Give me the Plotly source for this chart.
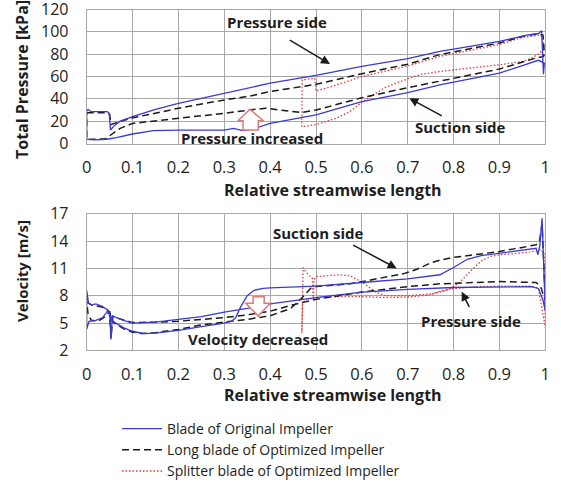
import plotly.graph_objects as go

# ---------------- data ----------------
x_tick_vals = [0, 0.1, 0.2, 0.3, 0.4, 0.5, 0.6, 0.7, 0.8, 0.9, 1]
x_tick_text = ["0", "0.1", "0.2", "0.3", "0.4", "0.5", "0.6", "0.7", "0.8", "0.9", "1"]
p_tick_vals = [0, 20, 40, 60, 80, 100, 120]
v_tick_vals = [2, 5, 8, 11, 14, 17]

series_names = ["Blade of Original Impeller",
                "Long blade of Optimized Impeller",
                "Splitter blade of Optimized Impeller"]

# Total pressure [kPa] - original blade (pressure side LE->TE, suction side TE->LE)
p_orig_ps_x = [0, 0.003, 0.01, 0.045, 0.049, 0.052, 0.06, 0.073, 0.1, 0.15, 0.2, 0.3, 0.356, 0.4, 0.5, 0.6, 0.7, 0.77, 0.8, 0.9, 0.96, 0.985, 0.992, 0.996]
p_orig_ps_y = [29, 30.5, 28.5, 28.5, 27, 12, 16, 20, 24, 30.5, 36, 45, 49.5, 54, 61, 69, 76, 82.5, 84.5, 91.5, 97, 98.5, 101, 62]
p_orig_ss_x = [0.998, 0.985, 0.9, 0.8, 0.77, 0.7, 0.6, 0.5, 0.4, 0.36, 0.34, 0.32, 0.3, 0.2, 0.145, 0.1, 0.073, 0.065, 0.044, 0.02, 0]
p_orig_ss_y = [72, 74.5, 63, 55, 52.6, 45.5, 37.6, 25.6, 18, 12.7, 11.5, 13.5, 12, 12, 11.5, 8.5, 5.6, 5.2, 3.8, 3.3, 3.6]

# Total pressure - long blade of optimized impeller
p_long_ps_x = [0, 0.045, 0.05, 0.053, 0.06, 0.073, 0.1, 0.16, 0.2, 0.3, 0.356, 0.4, 0.5, 0.6, 0.7, 0.77, 0.8, 0.9, 0.96, 0.985, 0.995, 0.998]
p_long_ps_y = [27.5, 27.5, 26, 17, 18, 19.5, 23, 28, 31.6, 39, 42.5, 46.5, 53, 62.5, 71, 79.6, 82, 90, 97, 98, 97, 80]
p_long_ss_x = [0.996, 0.98, 0.9, 0.8, 0.77, 0.7, 0.6, 0.5, 0.467, 0.41, 0.39, 0.355, 0.3, 0.2, 0.1, 0.073, 0.06, 0.05, 0.04, 0]
p_long_ss_y = [78, 76.6, 66.7, 58.5, 55.6, 50, 41, 30, 27.7, 31, 31.6, 30, 27, 22.6, 18, 13.6, 10, 6.7, 4, 3.8]

# Total pressure - splitter blade of optimized impeller
p_spl_ps_x = [0.469, 0.47, 0.48, 0.49, 0.497, 0.5, 0.51, 0.538, 0.6, 0.7, 0.77, 0.8, 0.9, 0.95, 0.97, 0.985, 0.993, 0.997]
p_spl_ps_y = [15, 57, 57.5, 58, 58.5, 47, 48, 51.5, 60, 69.5, 78, 80.5, 88.6, 95, 96.5, 97, 96, 86]
p_spl_ss_x = [0.995, 0.985, 0.97, 0.95, 0.9, 0.8, 0.77, 0.73, 0.7, 0.65, 0.618, 0.6, 0.574, 0.545, 0.5, 0.48]
p_spl_ss_y = [84, 80, 76.5, 73.5, 70.5, 66, 64.5, 62, 58, 50, 42, 37, 28.6, 22.7, 17, 15.5]

# Velocity [m/s] - original blade
v_orig_ps_x = [0, 0.004, 0.01, 0.02, 0.035, 0.044, 0.049, 0.051, 0.053, 0.056, 0.065, 0.08, 0.1, 0.15, 0.2, 0.25, 0.3, 0.35, 0.4, 0.5, 0.6, 0.7, 0.8, 0.9, 0.97, 0.985, 0.995, 1.0]
v_orig_ps_y = [8.6, 7.2, 7.0, 7.1, 6.8, 6.5, 6.1, 5.4, 3.2, 5.8, 5.6, 5.3, 5.0, 5.1, 5.4, 5.7, 6.2, 6.6, 7.1, 7.8, 8.4, 8.7, 8.9, 9.0, 9.0, 8.8, 7.5, 6.3]
v_orig_ss_x = [0.993, 0.988, 0.984, 0.98, 0.95, 0.9, 0.86, 0.83, 0.8, 0.77, 0.7, 0.6, 0.5, 0.4, 0.385, 0.365, 0.35, 0.336, 0.325, 0.316, 0.3, 0.25, 0.2, 0.15, 0.125, 0.1, 0.08, 0.06, 0.054, 0.05, 0.045, 0.035, 0.02, 0.005, 0]
v_orig_ss_y = [16.5, 13.5, 12.5, 13.2, 13.0, 12.6, 12.4, 12.0, 11.1, 10.3, 9.85, 9.45, 9.05, 8.85, 8.8, 8.6, 8.0, 6.8, 5.6, 5.2, 5.0, 4.6, 4.2, 3.9, 3.85, 4.1, 4.5, 5.1, 5.4, 6.2, 6.3, 5.6, 5.3, 5.2, 4.3]

# Velocity - long blade
v_long_ps_x = [0, 0.01, 0.03, 0.045, 0.05, 0.053, 0.057, 0.07, 0.1, 0.15, 0.2, 0.25, 0.3, 0.35, 0.4, 0.45, 0.5, 0.6, 0.7, 0.77, 0.8, 0.9, 0.98, 0.99, 0.996, 1.0]
v_long_ps_y = [7.3, 7.0, 6.8, 6.5, 6.0, 3.4, 5.7, 5.5, 5.05, 5.1, 5.2, 5.4, 5.6, 5.9, 6.3, 7.0, 7.6, 8.4, 9.0, 9.3, 9.35, 9.55, 9.45, 9.0, 8.0, 7.5]
v_long_ss_x = [0.993, 0.988, 0.983, 0.98, 0.95, 0.9, 0.8, 0.77, 0.75, 0.72, 0.69, 0.6, 0.574, 0.5, 0.49, 0.47, 0.445, 0.4, 0.35, 0.3, 0.25, 0.2, 0.15, 0.12, 0.1, 0.08, 0.06, 0.055, 0.05, 0.04, 0.025, 0.01, 0.003]
v_long_ss_y = [15.8, 14.2, 13.7, 13.6, 13.3, 12.85, 12.2, 11.9, 11.6, 10.9, 10.4, 9.6, 9.3, 9.0, 8.9, 7.8, 6.6, 5.8, 5.4, 5.1, 4.8, 4.3, 3.95, 3.85, 4.0, 4.4, 5.0, 5.3, 6.3, 5.7, 5.2, 5.3, 6.0]

# Velocity - splitter blade
v_spl_ps_x = [0.469, 0.471, 0.48, 0.492, 0.5, 0.55, 0.6, 0.65, 0.7, 0.75, 0.77, 0.8, 0.85, 0.9, 0.97, 0.985, 0.995, 1.0]
v_spl_ps_y = [3.9, 7.2, 7.6, 7.7, 7.8, 7.9, 7.9, 7.8, 7.85, 8.1, 8.5, 8.8, 9.0, 9.05, 9.05, 8.8, 6.0, 4.5]
v_spl_ss_x = [0.997, 0.99, 0.98, 0.967, 0.93, 0.9, 0.88, 0.86, 0.843, 0.814, 0.79, 0.77, 0.75, 0.7, 0.65, 0.63, 0.6, 0.574, 0.55, 0.52, 0.5, 0.496, 0.494, 0.492, 0.485, 0.478, 0.472]
v_spl_ss_y = [12.6, 13.1, 12.9, 12.8, 12.6, 12.5, 12.3, 11.8, 11.0, 9.5, 8.7, 8.4, 8.2, 8.0, 8.0, 8.4, 9.5, 10.2, 10.3, 10.2, 10.1, 9.8, 7.6, 9.9, 10.2, 10.6, 11.1]

# ---------------- styling ----------------
FONT = "Open Sans"
BLUE = "#3a3ad2"
BLACK = "#1a1a1a"
RED = "#e23a3a"
GRID = "#a8a8a8"
TXT = "#1e1e1e"

styles = [
    dict(color=BLUE, width=1.3, dash="solid"),
    dict(color=BLACK, width=1.5, dash="7px,4px"),
    dict(color=RED, width=1.3, dash="1.5px,2px"),
]


def loop(psx, psy, ssx, ssy):
    return psx + ssx + [psx[0]], psy + ssy + [psy[0]]


pressure_sets = [
    loop(p_orig_ps_x, p_orig_ps_y, p_orig_ss_x, p_orig_ss_y),
    loop(p_long_ps_x, p_long_ps_y, p_long_ss_x, p_long_ss_y),
    loop(p_spl_ps_x, p_spl_ps_y, p_spl_ss_x, p_spl_ss_y),
]
velocity_sets = [
    loop(v_orig_ps_x, v_orig_ps_y, v_orig_ss_x, v_orig_ss_y),
    loop(v_long_ps_x, v_long_ps_y, v_long_ss_x, v_long_ss_y),
    loop(v_spl_ps_x, v_spl_ps_y, v_spl_ss_x, v_spl_ss_y),
]

fig = go.Figure()
for i in [2, 1, 0]:
    x, y = pressure_sets[i]
    fig.add_trace(go.Scatter(x=x, y=y, mode="lines", name=series_names[i],
                             line=styles[i], xaxis="x", yaxis="y",
                             legendgroup=str(i), showlegend=True, legendrank=i + 1))
for i in [2, 1, 0]:
    x, y = velocity_sets[i]
    fig.add_trace(go.Scatter(x=x, y=y, mode="lines", name=series_names[i],
                             line=styles[i], xaxis="x2", yaxis="y2",
                             legendgroup=str(i), showlegend=False))

W, H = 561, 497
def fx(px):
    return px / W
def fy(py):
    return 1 - py / H

common_x = dict(range=[0, 1], tickvals=x_tick_vals, ticktext=x_tick_text,
                showgrid=True, gridcolor=GRID, gridwidth=1, showline=True,
                mirror=True, linecolor=GRID, linewidth=1, zeroline=False,
                ticks="", ticklabelstandoff=9, automargin=False,
                ticklabeloverflow="allow",
                tickfont=dict(family=FONT, size=16.5, color=TXT))
common_y = dict(showgrid=True, gridcolor=GRID, gridwidth=1, showline=True,
                mirror=True, linecolor=GRID, linewidth=1, zeroline=False,
                ticks="", ticklabelstandoff=14, automargin=False,
                ticklabeloverflow="allow",
                tickfont=dict(family=FONT, size=16, color=TXT))

fig.update_layout(
    width=W, height=H,
    margin=dict(l=0, r=0, t=0, b=0, autoexpand=False),
    paper_bgcolor="white", plot_bgcolor="white",
    font=dict(family=FONT, color=TXT),
    xaxis=dict(domain=[fx(86.7), fx(545.3)], anchor="y", **common_x),
    yaxis=dict(domain=[fy(143.5), fy(9.5)], range=[0, 120], tickvals=p_tick_vals,
               anchor="x", **common_y),
    xaxis2=dict(domain=[fx(86.7), fx(545.3)], anchor="y2", **common_x),
    yaxis2=dict(domain=[fy(350.4), fy(213.7)], range=[2, 17], tickvals=v_tick_vals,
                anchor="x2", **common_y),
    showlegend=True,
    legend=dict(x=fx(117), y=fy(413), xanchor="left", yanchor="top",
                font=dict(family=FONT, size=14, color=TXT),
                bgcolor="rgba(0,0,0,0)", tracegroupgap=0, itemwidth=40,
                traceorder="normal"),
)

ann = []
def title_ann(text, px, py, size, angle=0):
    return dict(text=text, x=fx(px), y=fy(py), xref="paper", yref="paper",
                xanchor="center", yanchor="middle", showarrow=False,
                textangle=angle, font=dict(family=FONT, size=size, color=TXT))

# axis titles
ann.append(title_ann("<b>Relative streamwise length</b>", 333, 190, 16))
ann.append(title_ann("<b>Relative streamwise length</b>", 333, 395, 16))
ann.append(title_ann("<b>Total Pressure [kPa]</b>", 22, 80, 16, -90))
ann.append(title_ann("<b>Velocity [m/s]</b>", 22, 271, 15, -90))

lab_font = dict(family=FONT, size=15, color=TXT)
def label(text, x, y, xr, yr):
    return dict(text=text, x=x, y=y, xref=xr, yref=yr, xanchor="center",
                yanchor="middle", showarrow=False, font=lab_font)
def arrow(x, y, ax, ay, xr, yr):
    return dict(text="", x=x, y=y, ax=ax, ay=ay, xref=xr, yref=yr, axref=xr,
                ayref=yr, showarrow=True, arrowhead=2, arrowsize=1.2,
                arrowwidth=1.5, arrowcolor=BLACK)

# top chart labels
ann.append(label("<b>Pressure side</b>", 0.415, 108.4, "x", "y"))
ann.append(arrow(0.5305, 71.2, 0.4396, 93.3, "x", "y"))
ann.append(label("<b>Pressure increased</b>", 0.3604, 4.9, "x", "y"))
ann.append(label("<b>Suction side</b>", 0.8144, 14.8, "x", "y"))
ann.append(arrow(0.7034, 40.5, 0.7776, 24, "x", "y"))
# bottom chart labels
ann.append(label("<b>Suction side</b>", 0.5045, 14.88, "x2", "y2"))
ann.append(arrow(0.676, 11.0, 0.5778, 13.64, "x2", "y2"))
ann.append(label("<b>Pressure side</b>", 0.838, 5.23, "x2", "y2"))
ann.append(arrow(0.8177, 8.44, 0.8358, 6.62, "x2", "y2"))
ann.append(label("<b>Velocity decreased</b>", 0.3735, 3.25, "x2", "y2"))
fig.update_layout(annotations=ann)

# hollow block arrows (pressure increased / velocity decreased)
up_path = ("M 0.341,12.1 L 0.374,12.1 L 0.374,20.4 L 0.385,20.4 L 0.356,30.6 "
           "L 0.33,20.4 L 0.341,20.4 Z")
down_path = ("M 0.363,7.89 L 0.387,7.89 L 0.387,7.17 L 0.40,7.17 L 0.374,5.77 "
             "L 0.347,7.17 L 0.363,7.17 Z")
fig.add_shape(type="path", path=up_path, xref="x", yref="y",
              line=dict(color="#de7a7a", width=1.5), fillcolor="white")
fig.add_shape(type="path", path=down_path, xref="x2", yref="y2",
              line=dict(color="#de7a7a", width=1.5), fillcolor="white")

fig.write_html("out.html")
